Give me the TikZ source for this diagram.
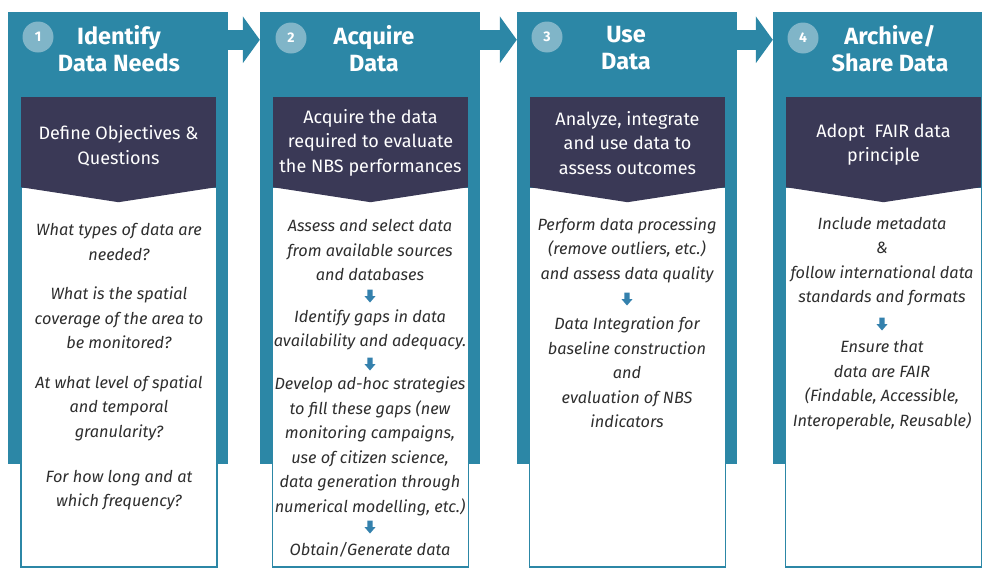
\documentclass[tikz,border=0pt]{standalone}
\usepackage{fontspec}
\setmainfont{Fira Sans}
\usetikzlibrary{arrows.meta}

\definecolor{panelteal}{HTML}{2C87A6}
\definecolor{boxnavy}{HTML}{3A3956}
\definecolor{circteal}{HTML}{80B5C8}
\definecolor{textgray}{HTML}{2E2E2E}
\definecolor{arrblue}{HTML}{3481AD}

\tikzset{
  panel/.style={fill=panelteal, minimum width=220pt, minimum height=452pt, inner sep=0pt},
  whitebox/.style={draw=panelteal, line width=1.5pt, fill=white, minimum width=196pt, minimum height=380pt, inner sep=0pt},
  darkbox/.style={fill=boxnavy, minimum width=195pt, minimum height=90pt, inner sep=0pt},
  darktext/.style={text=white, align=center, inner sep=0pt, font=\fontsize{18}{24.5}\selectfont},
  numcirc/.style={circle, fill=circteal, minimum size=31pt, inner sep=0pt, text=white, font=\bfseries\fontsize{14}{14}\selectfont},
  steptitle/.style={text=white, align=center, font=\bfseries\fontsize{23.5}{27}\selectfont},
  bodytext/.style={text=textgray, align=center, inner sep=0pt, font=\itshape\fontsize{16.3}{24.5}\selectfont},
  flow/.style={panelteal, line width=20pt, -{Triangle[length=17pt 0 0, width=46pt 0 0]}},
  dnarrow/.pic={\fill[arrblue] (-2.6,-6.5) -- (2.6,-6.5) -- (2.6,0) -- (5.6,0) -- (0,6.5) -- (-5.6,0) -- (-2.6,0) -- cycle;},
}

\begin{document}
\begin{tikzpicture}[x=1pt,y=-1pt]
  \useasboundingbox (0,0) rectangle (982,568);
  \clip (0,0) rectangle (982,568);

  % teal columns
  \node[panel] (p1) at (118,238) {};
  \node[panel] (p2) at (370,238) {};
  \node[panel] (p3) at (627,238) {};
  \node[panel] (p4) at (883,238) {};

  % arrows between the steps
  \draw[flow] ([yshift=-28pt]p1.north east) -- ([yshift=-28pt]p2.north west);
  \draw[flow] ([yshift=-28pt]p2.north east) -- ([yshift=-28pt]p3.north west);
  \draw[flow] ([yshift=-28pt]p3.north east) -- ([yshift=-28pt]p4.north west);

  % white boxes
  \node[whitebox] (w1) at (119,377) {};
  \node[whitebox] (w2) at (370.5,377) {};
  \node[whitebox] (w3) at (627.5,377) {};
  \node[whitebox] (w4) at (883.5,377) {};

  % dark boxes with their chevrons
  \node[darkbox] (d1) at (118.5,142) {};
  \node[darkbox] (d2) at (370.5,142) {};
  \node[darkbox] (d3) at (627.5,142) {};
  \node[darkbox] (d4) at (883.5,142) {};
  \fill[boxnavy] (d1.south west) -- (d1.south east) -- ([yshift=-15pt]d1.south) -- cycle;
  \fill[boxnavy] (d2.south west) -- (d2.south east) -- ([yshift=-15pt]d2.south) -- cycle;
  \fill[boxnavy] (d3.south west) -- (d3.south east) -- ([yshift=-15pt]d3.south) -- cycle;
  \fill[boxnavy] (d4.south west) -- (d4.south east) -- ([yshift=-15pt]d4.south) -- cycle;
  \node[darktext] (g1) at (118.5,146) {Define Objectives \&\\Questions};
  \node[darktext] (g2) at (370.5,142.5) {Acquire the data\\required to evaluate\\the NBS performances};
  \node[darktext] (g3) at (627.5,143) {Analyze, integrate\\and use data to\\assess outcomes};
  \node[darktext] (g4) at (883.5,144.5) {Adopt\ \ FAIR data\\principle};

  % numbers and titles
  \node[numcirc] (n1) at (38,37) {1};
  \node[numcirc] (n2) at (291,38) {2};
  \node[numcirc] (n3) at (547,37) {3};
  \node[numcirc] (n4) at (803,38) {4};
  \node[steptitle] (t1) at (119,48.5) {Identify\\Data Needs};
  \node[steptitle] (t2) at (374,48.5) {Acquire\\Data};
  \node[steptitle] (t3) at (626,48.5) {Use\\Data};
  \node[steptitle] (t4) at (890,48.5) {Archive/\\Share Data};

  % step 1
  \node[bodytext] (q1) at (119,242) {What types of data are\\needed?};
  \node[bodytext] (q2) at (119,318) {What is the spatial\\coverage of the area to\\be monitored?};
  \node[bodytext] (q3) at (119,408) {At what level of spatial\\and temporal\\granularity?};
  \node[bodytext] (q4) at (119,490) {For how long and at\\which frequency?};

  % step 2
  \node[bodytext] (a1) at (370,250) {Assess and select data\\from available sources\\and databases};
  \pic at (370,296) {dnarrow};
  \node[bodytext] (a2) at (370,330) {Identify gaps in data\\availability and adequacy.};
  \pic at (370,364) {dnarrow};
  \node[bodytext] (a3) at (370,446.5) {Develop ad-hoc strategies\\to fill these gaps (new\\monitoring campaigns,\\use of citizen science,\\data generation through\\numerical modelling, etc.)};
  \pic at (370,527) {dnarrow};
  \node[bodytext] (a4) at (370,550) {Obtain/Generate data};

  % step 3
  \node[bodytext] (u1) at (627,250) {Perform data processing\\(remove outliers, etc.)\\and assess data quality};
  \pic at (627,299) {dnarrow};
  \node[bodytext] (u2) at (627,372.5) {Data Integration for\\baseline construction\\and\\evaluation of NBS\\indicators};

  % step 4
  \node[bodytext] (s1) at (882,261.5) {Include metadata\\\&\\follow international data\\standards and formats};
  \pic at (882,324) {dnarrow};
  \node[bodytext] (s2) at (882,385) {Ensure that\\data are FAIR\\(Findable, Accessible,\\Interoperable, Reusable)};
\end{tikzpicture}
\end{document}
